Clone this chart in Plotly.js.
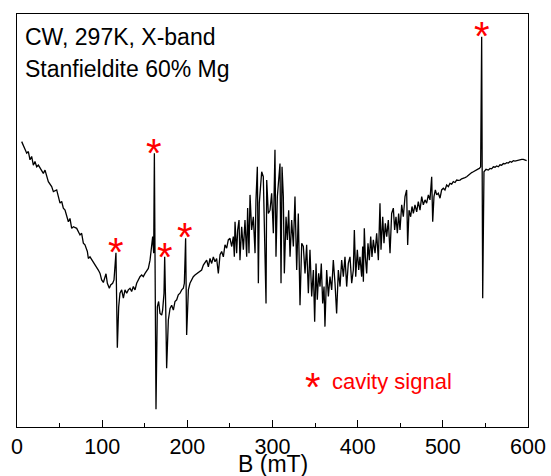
<!DOCTYPE html>
<html>
<head>
<meta charset="utf-8">
<script src="https://cdn.plot.ly/plotly-3.0.1.min.js"></script>
<style>html,body{margin:0;padding:0;background:#fff;}#chart{width:551px;height:476px;}</style>
</head>
<body>
<div id="chart"></div>
<script>
// Magnetic field (mT)
const field = [
5.5,9.4,11.4,13.3,15.3,17.2,19.2,21.1,23.1,25.1,29.0,30.9,32.9,34.8,36.8,40.7,42.7,46.6,48.5,50.5,
52.5,54.4,56.4,58.3,60.3,62.2,64.2,66.2,70.1,74.0,75.9,77.9,79.8,82.6,83.8,85.7,89.6,93.5,95.5,97.5,
99.4,101.4,103.3,104.5,106.1,108.4,110.0,112.3,113.9,115.1,116.2,117.8,119.4,120.9,122.9,124.9,126.8,128.8,130.7,132.7,
134.6,136.6,138.6,140.5,142.5,144.4,146.4,148.3,150.3,152.3,154.2,156.2,158.1,159.3,160.5,161.3,163.2,164.8,166.3,167.9,
169.9,171.0,172.6,173.4,174.6,175.7,177.7,179.7,181.6,183.6,185.5,187.5,189.4,191.4,193.4,195.3,196.5,198.0,199.2,201.2,
203.1,205.1,207.0,209.0,211.0,214.9,
216.8,218.8,222.7,224.7,226.6,228.6,230.5,232.5,234.4,236.4,238.4,240.3,242.3,244.2,246.2,248.1,250.1,252.1,254.0,255.2,
256.0,257.9,259.1,260.7,261.8,263.8,265.8,267.7,269.7,270.8,272.4,273.6,275.5,277.5,279.5,280.6,282.2,283.4,284.5,
287.3,289.2,292.4,293.2,295.1,297.1,299.0,301.0,302.9,304.1,305.7,307.2,308.8,310.0,311.2,312.7,313.9,315.9,317.4,319.0,
320.6,322.5,324.5,326.4,328.4,330.3,332.3,334.3,336.2,338.2,340.1,342.1,344.0,346.0,348.0,349.5,351.1,352.6,354.2,355.8,
357.3,358.9,360.5,361.6,363.6,365.6,367.5,369.5,371.4,373.4,375.3,377.3,379.3,381.2,383.2,385.1,387.1,389.0,391.0,393.0,
394.9,396.1,397.7,399.6,401.2,402.7,
404.7,405.9,406.7,407.8,409.0,410.6,412.1,413.7,415.3,416.8,418.4,420.4,422.3,424.3,426.2,427.4,429.4,430.9,432.5,434.1,
436.0,438.0,439.9,441.9,443.4,445.0,446.6,448.1,449.7,451.7,453.6,455.6,457.5,458.7,460.3,462.2,463.8,465.4,467.3,469.3,
471.2,473.2,475.2,477.1,479.1,481.0,483.0,484.9,486.9,488.1,489.6,491.2,492.8,494.7,496.7,498.6,500.6,502.5,504.5,506.5,
508.4,510.4,512.3,514.3,516.2,518.2,520.2,522.1,524.1,526.0,528.0,529.9,531.9,533.9,535.8,537.8,539.7,541.7,542.9,544.4,
545.6,546.8,548.3,550.7,553.4,555.4,557.3,559.3,561.3,563.2,565.2,567.1,569.1,571.0,573.0,575.0,576.9,578.9,580.8,582.8,
584.7,586.7,588.7,590.6,592.6,594.5,596.5,598.4
];
// EPR signal (arbitrary units)
const signal = [
69.1,67.5,66.3,66.7,64.7,65.5,63.4,64.3,63.0,63.4,62.2,61.4,62.2,61.0,59.4,58.2,57.0,57.4,55.4,54.2,
54.6,53.0,52.5,51.3,49.7,50.5,48.1,48.5,48.1,46.5,46.9,44.5,44.1,42.5,40.8,41.2,40.0,38.8,38.0,37.2,
35.6,35.0,36.0,37.1,34.8,33.6,34.4,34.8,35.6,38.8,42.2,19.2,29.1,32.4,33.2,31.2,33.2,32.4,33.2,33.6,
32.8,34.0,33.2,34.8,35.6,36.4,36.8,36.4,37.2,38.0,38.4,40.4,43.7,46.1,42.1,66.3,4.3,29.1,30.4,27.5,
27.1,28.3,32.4,41.2,29.1,14.2,25.9,28.7,29.5,28.3,30.4,30.8,32.0,32.4,33.2,33.6,34.8,45.7,22.3,33.2,
34.8,35.6,36.4,36.8,37.1,37.6,
38.0,39.2,40.4,38.8,40.8,39.6,41.2,40.0,40.8,37.2,41.7,42.5,41.2,44.1,43.3,45.3,45.7,43.7,46.1,41.2,
49.7,42.1,47.7,50.1,40.4,48.5,42.9,50.1,41.2,53.0,42.1,56.2,47.7,50.9,42.1,55.0,63.0,34.8,54.2,
61.8,60.6,29.9,59.8,51.7,52.5,56.6,46.9,67.1,41.2,55.8,60.6,63.8,34.8,63.0,55.8,37.2,50.9,45.3,52.5,
41.2,50.1,43.7,55.8,38.0,51.7,29.5,44.5,43.7,37.2,44.1,32.4,42.9,31.6,38.0,25.5,39.6,30.8,37.2,34.0,
39.6,29.9,34.0,24.3,38.0,31.6,36.4,33.2,40.4,34.8,27.5,38.0,34.0,40.4,36.4,41.2,34.0,39.6,41.2,34.8,
38.0,47.7,36.4,42.9,38.0,41.2,
36.4,43.7,35.2,48.1,41.2,37.2,44.5,40.4,46.1,41.2,45.3,42.1,46.9,40.4,54.2,42.9,50.9,44.5,49.3,46.1,
50.1,42.1,51.7,53.0,47.7,50.9,46.9,51.7,47.7,53.8,50.9,55.8,57.4,44.1,52.5,50.9,53.4,51.7,53.8,52.1,
54.6,52.5,55.8,53.8,55.0,54.2,56.2,55.0,60.6,49.7,55.8,57.4,56.2,56.6,55.4,57.4,57.8,57.4,58.6,58.2,
59.0,58.8,59.4,59.2,59.8,59.7,59.8,60.1,60.2,60.4,60.6,61.0,61.4,61.6,61.8,62.1,62.2,62.5,62.6,63.0,
94.5,31.2,61.8,62.4,62.2,62.6,62.5,63.0,62.9,63.2,63.0,63.5,63.4,63.8,63.7,64.0,63.9,64.3,64.1,64.5,
64.4,64.5,64.7,64.7,64.8,64.8,64.7,64.5
];
// Cavity signal markers (field, signal)
const starField = [116.2, 160.9, 173.8, 197.3, 546.0];
const starSignal = [43.8, 67.8, 42.6, 47.5, 96.1];
// Ticks
const tickVals = [0, 100, 200, 300, 400, 500, 600];
const tickLabels = ["0", "100", "200", "300", "400", "500", "600"];
const xTitle = "B (mT)";
const infoLines = ["CW, 297K, X-band", "Stanfieldite 60% Mg"];
const legendText = "cavity signal";

const FONT = "Liberation Sans, Arial, sans-serif";
const L = 17, R = 528, T = 14, Bt = 427;
const px2x = p => (p - L) / (R - L);
const py2y = p => (Bt - p) / (Bt - T);
const STAR = 40;
const SHIFT = 0.15;

const annotations = [];
starField.forEach((f, i) => {
  annotations.push({x: f, y: starSignal[i], xref: 'x', yref: 'y', text: '*', showarrow: false,
    xanchor: 'center', yanchor: 'middle', yshift: -SHIFT * STAR,
    font: {family: FONT, size: STAR, color: '#ff0000'}});
});
annotations.push({x: px2x(23), y: py2y(37), xref: 'paper', yref: 'paper', text: infoLines[0], showarrow: false,
  xanchor: 'left', yanchor: 'middle', font: {family: FONT, size: 23, color: '#000'}});
annotations.push({x: px2x(23), y: py2y(69), xref: 'paper', yref: 'paper', text: infoLines[1], showarrow: false,
  xanchor: 'left', yanchor: 'middle', font: {family: FONT, size: 23, color: '#000'}});
annotations.push({x: px2x(312.5), y: py2y(381 + SHIFT * STAR), xref: 'paper', yref: 'paper', text: '*', showarrow: false,
  xanchor: 'center', yanchor: 'middle', font: {family: FONT, size: STAR, color: '#ff0000'}});
annotations.push({x: px2x(330), y: py2y(389 - 0.3465 * 22), xref: 'paper', yref: 'paper', text: legendText, showarrow: false,
  xanchor: 'left', yanchor: 'middle', font: {family: FONT, size: 22, color: '#ff0000'}});
// x-axis title (placed as annotation to control its exact vertical position)
annotations.push({x: 0.5, y: py2y(472 - 0.3465 * 23), xref: 'paper', yref: 'paper', text: xTitle, showarrow: false,
  xanchor: 'center', yanchor: 'middle', font: {family: FONT, size: 23, color: '#000'}});

const trace = {x: field, y: signal, type: 'scatter', mode: 'lines',
  line: {color: '#000', width: 1.3}, hoverinfo: 'skip'};

const layout = {
  width: 551, height: 476,
  margin: {l: L, r: 551 - R, t: T, b: 476 - Bt, pad: 0},
  paper_bgcolor: '#fff', plot_bgcolor: '#fff',
  showlegend: false,
  font: {family: FONT, color: '#000'},
  xaxis: {
    range: [0, 600], tickmode: 'array', tickvals: tickVals, ticktext: tickLabels,
    ticks: 'inside', ticklen: 7, tickwidth: 1, tickcolor: '#000',
    minor: {tickmode: 'linear', tick0: 0, dtick: 50, ticks: 'inside', ticklen: 4, tickwidth: 1, tickcolor: '#000', showgrid: false},
    showline: true, linecolor: '#000', linewidth: 1, mirror: true,
    showgrid: false, zeroline: false,
    tickfont: {family: FONT, size: 21.5, color: '#000'}
  },
  yaxis: {
    range: [0, 100], showticklabels: false, ticks: '',
    showline: true, linecolor: '#000', linewidth: 1, mirror: true,
    showgrid: false, zeroline: false
  },
  annotations: annotations
};

Plotly.newPlot('chart', [trace], layout, {displayModeBar: false, staticPlot: true});
</script>
</body>
</html>
